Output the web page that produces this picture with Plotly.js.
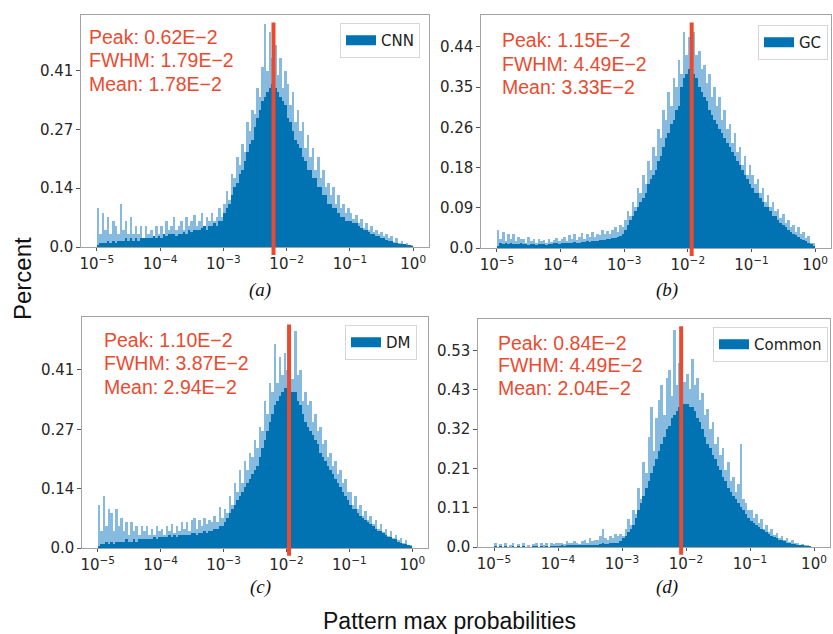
<!DOCTYPE html>
<html><head><meta charset="utf-8">
<script src="https://cdn.plot.ly/plotly-3.0.1.min.js"></script>
<style>html,body{margin:0;padding:0;background:#fff}#chart{width:833px;height:634px}</style>
</head><body><div id="chart"></div>
<script>
// ---------------- data ----------------
const panelNames = ['CNN', 'GC', 'DM', 'Common'];
const panelLetters = ['a', 'b', 'c', 'd'];
const BIN_START_LOG10 = -5;      // first bin edge, log10(probability)
const BINS_PER_DECADE = 25;
const xTickVals = [-5, -4, -3, -2, -1, 0];
const xTickText = ['10<sup>−5</sup>', '10<sup>−4</sup>', '10<sup>−3</sup>', '10<sup>−2</sup>', '10<sup>−1</sup>', '10<sup>0</sup>'];

const peakValues = [0.62e-2, 1.15e-2, 1.10e-2, 0.84e-2];
const fwhmValues = [1.79e-2, 4.49e-2, 3.87e-2, 4.49e-2];
const meanValues = [1.78e-2, 3.33e-2, 2.94e-2, 2.04e-2];

const yTickValsA = [0, 0.137, 0.274, 0.411];
const yTickTextA = ['0.0', '0.14', '0.27', '0.41'];
const yTickValsB = [0, 0.0877, 0.1754, 0.2631, 0.3508, 0.4385];
const yTickTextB = ['0.0', '0.09', '0.18', '0.26', '0.35', '0.44'];
const yTickValsC = [0, 0.137, 0.274, 0.411];
const yTickTextC = ['0.0', '0.14', '0.27', '0.41'];
const yTickValsD = [0, 0.1068, 0.2136, 0.3204, 0.4272, 0.534];
const yTickTextD = ['0.0', '0.11', '0.21', '0.32', '0.43', '0.53'];

// percent per bin: "Top" = tallest thin bars (light fringe), "Body" = dense core
const cnnTop = [
 0.09,0.03,0.08,0.04,0.07, 0.03,0.06,0.05,0.03,0.10, 0.04,0.06,0.03,0.07,0.03, 0.05,0.03,0.05,0.02,0.05, 0.03,0.04,0.02,0.05,0.03,
 0.05,0.03,0.06,0.04,0.05, 0.07,0.04,0.05,0.06,0.04, 0.07,0.05,0.06,0.075,0.05, 0.06,0.08,0.05,0.07,0.06, 0.08,0.06,0.07,0.09,0.07,
 0.10,0.13,0.11,0.17,0.16, 0.21,0.19,0.24,0.22,0.29, 0.27,0.32,0.31,0.37,0.35, 0.42,0.52,0.41,0.50,0.44, 0.47,0.40,0.44,0.37,0.41,
 0.38,0.33,0.36,0.29,0.32, 0.27,0.29,0.23,0.26,0.21, 0.23,0.18,0.21,0.16,0.18, 0.14,0.15,0.12,0.14,0.10, 0.12,0.09,0.10,0.08,0.09,
 0.08,0.065,0.075,0.055,0.065, 0.045,0.055,0.04,0.05,0.035, 0.04,0.03,0.035,0.025,0.03, 0.02,0.025,0.012,0.02,0.01, 0.014,0.006,0.01,0.004,0.005
];
const cnnBody = [
 0.005,0.01,0.01,0.01,0.015, 0.01,0.015,0.01,0.015,0.015, 0.015,0.02,0.015,0.02,0.015, 0.02,0.015,0.02,0.02,0.02, 0.02,0.02,0.025,0.02,0.025,
 0.02,0.03,0.025,0.03,0.03, 0.03,0.025,0.03,0.03,0.035, 0.03,0.04,0.035,0.04,0.04, 0.04,0.045,0.05,0.04,0.05, 0.05,0.055,0.05,0.06,0.06,
 0.08,0.09,0.10,0.12,0.14, 0.15,0.17,0.18,0.20,0.22, 0.24,0.25,0.28,0.30,0.32, 0.34,0.35,0.36,0.37,0.38, 0.37,0.36,0.35,0.34,0.33,
 0.30,0.29,0.27,0.25,0.24, 0.23,0.21,0.20,0.18,0.18, 0.16,0.16,0.14,0.14,0.12, 0.12,0.10,0.10,0.09,0.09, 0.08,0.07,0.07,0.06,0.06,
 0.06,0.055,0.055,0.05,0.045, 0.04,0.04,0.035,0.03,0.03, 0.025,0.025,0.02,0.02,0.017, 0.014,0.015,0.01,0.01,0.008, 0.006,0.006,0.004,0.004,0.002
];
const gcTop = [
 0.04,0.02,0.035,0.015,0.03, 0.02,0.03,0.015,0.025,0.02, 0.02,0.012,0.025,0.015,0.02, 0.012,0.02,0.015,0.018,0.012, 0.02,0.014,0.018,0.022,0.015,
 0.02,0.025,0.015,0.028,0.02, 0.03,0.018,0.025,0.032,0.02, 0.03,0.024,0.035,0.025,0.03, 0.028,0.04,0.03,0.038,0.03, 0.04,0.045,0.035,0.05,0.045,
 0.06,0.08,0.07,0.10,0.09, 0.13,0.12,0.16,0.14,0.19, 0.17,0.22,0.20,0.26,0.24, 0.30,0.28,0.34,0.31,0.37, 0.35,0.41,0.38,0.47,0.42,
 0.46,0.41,0.47,0.42,0.43, 0.39,0.40,0.36,0.38,0.33, 0.35,0.31,0.33,0.28,0.30, 0.26,0.27,0.23,0.25,0.21, 0.22,0.18,0.20,0.16,0.18,
 0.16,0.14,0.15,0.12,0.13, 0.10,0.115,0.09,0.10,0.08, 0.085,0.065,0.075,0.055,0.06, 0.045,0.05,0.035,0.045,0.03, 0.035,0.022,0.026,0.012,0.012
];
const gcBody = [
 0.005,0.01,0.008,0.01,0.008, 0.01,0.008,0.008,0.008,0.01, 0.008,0.008,0.006,0.008,0.008, 0.006,0.008,0.008,0.008,0.006, 0.008,0.008,0.01,0.01,0.008,
 0.01,0.012,0.01,0.012,0.012, 0.014,0.012,0.012,0.014,0.014, 0.016,0.014,0.016,0.016,0.016, 0.018,0.018,0.018,0.02,0.02, 0.022,0.022,0.024,0.026,0.03,
 0.04,0.05,0.06,0.07,0.08, 0.09,0.10,0.11,0.12,0.14, 0.15,0.16,0.17,0.19,0.20, 0.22,0.24,0.25,0.27,0.28, 0.30,0.31,0.35,0.37,0.38,
 0.39,0.39,0.38,0.37,0.35, 0.34,0.33,0.32,0.30,0.29, 0.28,0.27,0.26,0.25,0.24, 0.23,0.22,0.21,0.20,0.19, 0.18,0.17,0.16,0.15,0.14,
 0.13,0.12,0.12,0.11,0.10, 0.09,0.09,0.08,0.07,0.07, 0.06,0.055,0.05,0.045,0.04, 0.035,0.03,0.028,0.025,0.02, 0.018,0.015,0.012,0.008,0.005
];
const dmTop = [
 0.10,0.04,0.12,0.05,0.09, 0.08,0.04,0.09,0.05,0.07, 0.04,0.06,0.03,0.06,0.04, 0.05,0.03,0.05,0.04,0.05, 0.03,0.045,0.03,0.05,0.04,
 0.045,0.03,0.05,0.04,0.055, 0.035,0.05,0.04,0.06,0.045, 0.06,0.04,0.065,0.07,0.045, 0.065,0.05,0.07,0.055,0.065, 0.06,0.075,0.06,0.095,0.07,
 0.09,0.08,0.12,0.10,0.15, 0.13,0.18,0.15,0.20,0.18, 0.22,0.21,0.25,0.23,0.28, 0.27,0.34,0.31,0.38,0.36, 0.47,0.38,0.44,0.40,0.45,
 0.41,0.44,0.39,0.50,0.40, 0.41,0.34,0.36,0.33,0.34, 0.29,0.31,0.27,0.28,0.24, 0.25,0.21,0.22,0.19,0.20, 0.17,0.18,0.15,0.16,0.13,
 0.13,0.10,0.12,0.09,0.10, 0.075,0.085,0.065,0.075,0.055, 0.065,0.045,0.055,0.038,0.045, 0.028,0.04,0.022,0.03,0.018, 0.022,0.012,0.018,0.008,0.006
];
const dmBody = [
 0.005,0.01,0.01,0.015,0.01, 0.015,0.01,0.015,0.015,0.015, 0.015,0.02,0.015,0.015,0.02, 0.015,0.02,0.02,0.02,0.02, 0.02,0.02,0.025,0.02,0.025,
 0.025,0.025,0.025,0.03,0.025, 0.03,0.025,0.03,0.03,0.03, 0.03,0.03,0.035,0.035,0.03, 0.035,0.035,0.04,0.035,0.04, 0.04,0.045,0.045,0.05,0.05,
 0.06,0.07,0.08,0.09,0.10, 0.11,0.12,0.13,0.14,0.15, 0.16,0.17,0.18,0.19,0.21, 0.23,0.25,0.27,0.29,0.31, 0.33,0.34,0.35,0.36,0.37,
 0.37,0.37,0.36,0.36,0.34, 0.33,0.31,0.29,0.28,0.27, 0.26,0.25,0.24,0.22,0.21, 0.20,0.19,0.18,0.17,0.16, 0.15,0.14,0.13,0.12,0.11,
 0.10,0.09,0.09,0.08,0.075, 0.07,0.065,0.06,0.055,0.05, 0.045,0.04,0.04,0.035,0.03, 0.025,0.025,0.02,0.02,0.015, 0.012,0.01,0.01,0.006,0.004
];
const commonTop = [
 0.01,0,0.008,0,0.01, 0,0.006,0.01,0,0.008, 0,0.01,0,0.006,0, 0.008,0.01,0,0.01,0.006, 0.012,0,0.01,0.008,0.012,
 0.01,0.012,0.008,0.015,0.01, 0.012,0.015,0.01,0.008,0.015, 0.02,0.012,0.025,0.015,0.02, 0.018,0.03,0.05,0.025,0.02, 0.03,0.025,0.035,0.03,0.035,
 0.03,0.05,0.076,0.06,0.10, 0.09,0.16,0.13,0.23,0.20, 0.30,0.38,0.26,0.35,0.40, 0.44,0.36,0.46,0.48,0.41, 0.59,0.44,0.50,0.53,0.45,
 0.47,0.43,0.51,0.44,0.46, 0.40,0.42,0.36,0.375,0.32, 0.34,0.28,0.30,0.25,0.27, 0.21,0.23,0.18,0.19,0.15, 0.17,0.28,0.13,0.12,0.10,
 0.10,0.08,0.09,0.065,0.075, 0.05,0.06,0.04,0.048,0.032, 0.038,0.024,0.03,0.02,0.024, 0.014,0.018,0.01,0.012,0.006, 0.008,0.003,0.005,0.002,0
];
const commonBody = [
 0.002,0,0.002,0,0.002, 0,0,0.002,0,0.002, 0,0.002,0,0,0, 0.002,0.002,0,0.002,0, 0.002,0,0.002,0.002,0.002,
 0.002,0.003,0.002,0.004,0.003, 0.003,0.004,0.003,0.003,0.004, 0.005,0.004,0.006,0.005,0.006, 0.006,0.008,0.01,0.008,0.008, 0.01,0.01,0.012,0.012,0.015,
 0.025,0.03,0.04,0.05,0.06, 0.08,0.10,0.12,0.14,0.16, 0.18,0.20,0.22,0.24,0.26, 0.28,0.30,0.32,0.33,0.35, 0.36,0.37,0.38,0.39,0.39,
 0.39,0.38,0.38,0.37,0.35, 0.34,0.32,0.30,0.28,0.27, 0.25,0.24,0.22,0.21,0.19, 0.18,0.16,0.15,0.14,0.13, 0.12,0.11,0.10,0.09,0.08,
 0.07,0.065,0.06,0.055,0.05, 0.045,0.04,0.035,0.03,0.027, 0.024,0.02,0.018,0.015,0.012, 0.01,0.008,0.007,0.005,0.004, 0.003,0.002,0.001,0.001,0
];

// ---------------- chart ----------------
const topSeries = [cnnTop, gcTop, dmTop, commonTop];
const bodySeries = [cnnBody, gcBody, dmBody, commonBody];
const yTickVals = [yTickValsA, yTickValsB, yTickValsC, yTickValsD];
const yTickText = [yTickTextA, yTickTextB, yTickTextC, yTickTextD];

const nBins = cnnTop.length;
const binWidth = 1 / BINS_PER_DECADE;
const binCenters = [];
for (let i = 0; i < nBins; i++) binCenters.push(BIN_START_LOG10 + (i + 0.5) * binWidth);

const DARK = '#0173b2', LIGHT = '#86bbdf', RED = '#ea4b30';
const SANS = 'DejaVu Sans, Verdana, sans-serif';
const W = 833, H = 634;
// pixel frames of the four panels: [left, right, top, bottom]
const frames = [[81, 429, 15, 247], [481, 831, 15, 248], [82, 428, 317, 548], [478, 830, 319, 547]];
const yMax = [0.54, 0.508, 0.533, 0.62];
const legendPos = [[420, 23], [828, 25], [417, 325], [828, 327]];
const textLeft = [88, 501, 103, 497];
const textY = [[37.5, 60.5, 84], [40, 63.5, 86.5], [339.5, 363, 386.5], [342.5, 364.5, 387.5]];
const letterPos = [[260, 290], [667, 290], [260, 587], [667, 587]];

const traces = [];
const layout = {
  width: W, height: H, margin: {l: 0, r: 0, t: 0, b: 0},
  paper_bgcolor: '#fff', plot_bgcolor: '#fff',
  font: {family: SANS, size: 15, color: '#262626'},
  barmode: 'overlay', bargap: 0, showlegend: true,
  annotations: [], shapes: []
};
const fmt = v => (v * 100).toFixed(2) + 'E−2';

for (let p = 0; p < 4; p++) {
  const sfx = p === 0 ? '' : String(p + 1);
  const xa = 'x' + sfx, ya = 'y' + sfx, lg = 'legend' + sfx;
  traces.push({type: 'bar', x: binCenters, y: topSeries[p], xaxis: xa, yaxis: ya,
    marker: {color: LIGHT, line: {width: 0}}, showlegend: false, hoverinfo: 'skip'});
  traces.push({type: 'bar', x: binCenters, y: bodySeries[p], xaxis: xa, yaxis: ya,
    marker: {color: DARK, line: {width: 0}}, showlegend: false, hoverinfo: 'skip'});
  // legend patch
  traces.push({type: 'scatter', mode: 'lines', x: [null], y: [null], xaxis: xa, yaxis: ya,
    line: {color: DARK, width: 12}, name: panelNames[p], legend: lg, showlegend: true});

  const f = frames[p];
  const axFont = {family: SANS, size: 15, color: '#262626'};
  layout['xaxis' + sfx] = {
    domain: [f[0] / W, f[1] / W], anchor: ya, range: [-5.25, 0.25],
    tickmode: 'array', tickvals: xTickVals, ticktext: xTickText,
    ticks: 'outside', ticklen: 3, tickcolor: '#555', tickfont: axFont,
    showline: true, mirror: true, linecolor: '#a3a3a3', linewidth: 1.2,
    showgrid: false, zeroline: false, fixedrange: true
  };
  layout['yaxis' + sfx] = {
    domain: [1 - f[3] / H, 1 - f[2] / H], anchor: xa, range: [0, yMax[p]],
    tickmode: 'array', tickvals: yTickVals[p], ticktext: yTickText[p],
    ticks: 'outside', ticklen: 3.5, tickcolor: '#555', tickfont: axFont,
    showline: true, mirror: true, linecolor: '#a3a3a3', linewidth: 1.2,
    showgrid: false, zeroline: false, fixedrange: true
  };
  layout[lg] = {
    x: legendPos[p][0] / W, y: 1 - legendPos[p][1] / H, xanchor: 'right', yanchor: 'top',
    bgcolor: 'rgba(255,255,255,0.9)', bordercolor: '#d6d6d6', borderwidth: 1,
    font: {family: SANS, size: 15, color: '#222'}, itemwidth: 30
  };
  layout.shapes.push({type: 'line', xref: xa, yref: ya + ' domain',
    x0: Math.log10(peakValues[p]), x1: Math.log10(peakValues[p]), y0: -0.034, y1: 0.968,
    line: {color: RED, width: 4}, layer: 'above'});
  const lines = ['Peak: ' + fmt(peakValues[p]), 'FWHM: ' + fmt(fwhmValues[p]), 'Mean: ' + fmt(meanValues[p])];
  lines.forEach((t, k) => layout.annotations.push({
    xref: 'paper', yref: 'paper', x: textLeft[p] / W, y: 1 - textY[p][k] / H,
    xanchor: 'left', yanchor: 'middle', showarrow: false, text: t, borderpad: 0,
    font: {family: 'Liberation Sans, Arial', size: 19.5, color: RED}
  }));
  layout.annotations.push({xref: 'paper', yref: 'paper', x: letterPos[p][0] / W, y: 1 - letterPos[p][1] / H,
    xanchor: 'center', yanchor: 'middle', showarrow: false, text: '<i>(' + panelLetters[p] + ')</i>',
    font: {family: 'Liberation Serif, Times New Roman', size: 19, color: '#111'}});
}
layout.annotations.push({xref: 'paper', yref: 'paper', x: 23 / W, y: 1 - 279 / H, textangle: -90,
  xanchor: 'center', yanchor: 'middle', showarrow: false, text: 'Percent',
  font: {family: 'Liberation Sans, Arial', size: 24, color: '#111'}});
layout.annotations.push({xref: 'paper', yref: 'paper', x: 449 / W, y: 1 - 621 / H,
  xanchor: 'center', yanchor: 'middle', showarrow: false, text: 'Pattern max probabilities',
  font: {family: 'Liberation Sans, Arial', size: 23, color: '#111'}});

Plotly.newPlot('chart', traces, layout, {displayModeBar: false});
</script>
</body></html>
